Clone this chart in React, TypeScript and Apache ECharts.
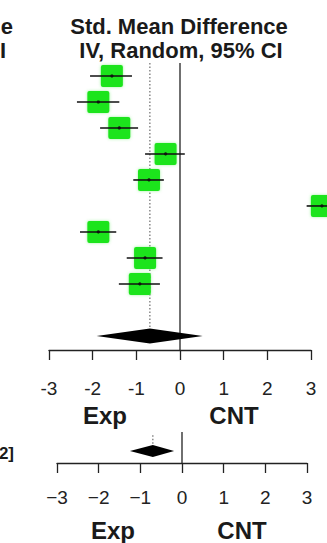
import React, { useEffect, useRef } from "react";
import * as echarts from "echarts";

// ---- data ----
const studyEst = [-1.56, -1.87, -1.39, -0.33, -0.71, 3.25, -1.87, -0.8, -0.92];
const studyLo = [-2.06, -2.36, -1.83, -0.8, -1.07, 2.9, -2.29, -1.22, -1.4];
const studyHi = [-1.1, -1.39, -0.96, 0.11, -0.37, 3.6, -1.46, -0.4, -0.46];
const studyRow = [1, 2, 3, 4, 5, 6, 7, 8, 9];

const pooledTop = { est: -0.69, lo: -1.91, hi: 0.52, row: 11 };
const pooledBottom = { est: -0.7, lo: -1.25, hi: -0.19, row: 0.73 };

const xTicks = [-3, -2, -1, 0, 1, 2, 3];
const titleLines = ["Std. Mean Difference", "IV, Random, 95% CI"];
const sideLabels = ["Exp", "CNT"];

const GREEN = "#1fe41f";
const FONT = "'Liberation Sans', Arial, sans-serif";

export default function App() {
  const ref = useRef<HTMLDivElement>(null);
  useEffect(() => {
    document.body.style.margin = "0";
    const chart = echarts.init(ref.current!, null, { renderer: "svg" });

    const studyData = studyEst.map((e, i) => [e, studyLo[i], studyHi[i], studyRow[i]]);

    const renderStudy = (params: any, api: any) => {
      const est = api.value(0);
      const lo = api.value(1);
      const hi = api.value(2);
      const row = api.value(3);
      const c = api.coord([est, row]);
      const l = api.coord([lo, row]);
      const h = api.coord([hi, row]);
      const s = 22;
      return {
        type: "group",
        children: [
          {
            type: "rect",
            shape: { x: c[0] - s / 2, y: c[1] - s / 2, width: s, height: s, r: 2 },
            style: { fill: GREEN, shadowBlur: 3, shadowColor: "rgba(60,230,60,0.5)" },
          },
          {
            type: "line",
            shape: { x1: l[0], y1: l[1], x2: h[0], y2: h[1] },
            style: { stroke: "#111", lineWidth: 1.6 },
          },
          {
            type: "circle",
            shape: { cx: c[0], cy: c[1], r: 1.6 },
            style: { fill: "#111" },
          },
        ],
      };
    };

    const renderDiamond = (halfH: number) => (params: any, api: any) => {
      const est = api.value(0);
      const lo = api.value(1);
      const hi = api.value(2);
      const row = api.value(3);
      const c = api.coord([est, row]);
      const l = api.coord([lo, row]);
      const h = api.coord([hi, row]);
      return {
        type: "polygon",
        shape: {
          points: [
            [l[0], c[1]],
            [c[0], c[1] - halfH],
            [h[0], c[1]],
            [c[0], c[1] + halfH],
          ],
        },
        style: { fill: "#000" },
      };
    };

    const renderVLine = (dashed: boolean) => (params: any, api: any) => {
      const x = api.value(0);
      const a = api.coord([x, api.value(1)]);
      const b = api.coord([x, api.value(2)]);
      return {
        type: "line",
        shape: { x1: a[0], y1: a[1], x2: b[0], y2: b[1] },
        style: dashed
          ? { stroke: "#777", lineWidth: 1.3, lineDash: [1.5, 2] }
          : { stroke: "#222", lineWidth: 1.3 },
      };
    };

    const axisCommon = (margin: number, fontSize: number, minusSign: boolean) => ({
      type: "value" as const,
      min: xTicks[0],
      max: xTicks[xTicks.length - 1],
      interval: 1,
      splitLine: { show: false },
      axisLine: { show: true, onZero: false, lineStyle: { color: "#222", width: 1.3 } },
      axisTick: { show: true, inside: false, length: 10, lineStyle: { color: "#222", width: 1.3 } },
      axisLabel: {
        show: true,
        margin,
        fontSize,
        fontFamily: FONT,
        color: "#222",
        formatter: (v: number) =>
          minusSign && v < 0 ? "\u2212" + Math.abs(v) : String(v),
      },
    });

    chart.setOption({
      animation: false,
      grid: [
        { left: 49, width: 262, top: 63, height: 287 },
        { left: 57, width: 250, top: 432, height: 31 },
      ],
      xAxis: [
        { ...axisCommon(29, 19, false), gridIndex: 0 },
        { ...axisCommon(25, 19, true), gridIndex: 1 },
      ],
      yAxis: [
        { type: "value", gridIndex: 0, min: 0.5, max: 11.54, inverse: true, show: false },
        { type: "value", gridIndex: 1, min: 0, max: 1.19, inverse: true, show: false },
      ],
      series: [
        {
          type: "custom",
          xAxisIndex: 0,
          yAxisIndex: 0,
          renderItem: renderVLine(true),
          data: [[pooledTop.est, 0.5, pooledTop.row - 0.33]],
          z: 1,
        },
        {
          type: "custom",
          xAxisIndex: 0,
          yAxisIndex: 0,
          renderItem: renderVLine(false),
          data: [[0, 0.5, 11.54]],
          z: 1,
        },
        {
          type: "custom",
          xAxisIndex: 0,
          yAxisIndex: 0,
          renderItem: renderStudy,
          data: studyData,
          z: 3,
        },
        {
          type: "custom",
          xAxisIndex: 0,
          yAxisIndex: 0,
          renderItem: renderDiamond(7.5),
          data: [[pooledTop.est, pooledTop.lo, pooledTop.hi, pooledTop.row]],
          z: 4,
        },
        {
          type: "custom",
          xAxisIndex: 1,
          yAxisIndex: 1,
          renderItem: renderVLine(true),
          data: [[pooledBottom.est, 0.12, 0.48]],
          z: 1,
        },
        {
          type: "custom",
          xAxisIndex: 1,
          yAxisIndex: 1,
          renderItem: renderVLine(false),
          data: [[0, 0, 1.19]],
          z: 1,
        },
        {
          type: "custom",
          xAxisIndex: 1,
          yAxisIndex: 1,
          renderItem: renderDiamond(6),
          data: [[pooledBottom.est, pooledBottom.lo, pooledBottom.hi, pooledBottom.row]],
          z: 4,
        },
      ],
      graphic: [
        {
          type: "text",
          x: 179,
          y: 26,
          style: {
            text: titleLines[0],
            align: "center",
            verticalAlign: "middle",
            font: `bold 22px ${FONT}`,
            fill: "#1a1a1a",
          },
        },
        {
          type: "text",
          x: 181,
          y: 50,
          style: {
            text: titleLines[1],
            align: "center",
            verticalAlign: "middle",
            font: `bold 22px ${FONT}`,
            fill: "#1a1a1a",
          },
        },
        {
          type: "text",
          x: 13,
          y: 26,
          style: { text: "e", align: "right", verticalAlign: "middle", font: `bold 22px ${FONT}`, fill: "#1a1a1a" },
        },
        {
          type: "text",
          x: 6,
          y: 50,
          style: { text: "I", align: "right", verticalAlign: "middle", font: `bold 22px ${FONT}`, fill: "#1a1a1a" },
        },
        {
          type: "text",
          x: 14,
          y: 453,
          style: { text: "2]", align: "right", verticalAlign: "middle", font: `bold 17px ${FONT}`, fill: "#1a1a1a" },
        },
        {
          type: "text",
          x: 105,
          y: 415,
          style: { text: sideLabels[0], align: "center", verticalAlign: "middle", font: `bold 24px ${FONT}`, fill: "#1a1a1a" },
        },
        {
          type: "text",
          x: 234,
          y: 415,
          style: { text: sideLabels[1], align: "center", verticalAlign: "middle", font: `bold 24px ${FONT}`, fill: "#1a1a1a" },
        },
        {
          type: "text",
          x: 113,
          y: 530,
          style: { text: sideLabels[0], align: "center", verticalAlign: "middle", font: `bold 24px ${FONT}`, fill: "#1a1a1a" },
        },
        {
          type: "text",
          x: 242,
          y: 530,
          style: { text: sideLabels[1], align: "center", verticalAlign: "middle", font: `bold 24px ${FONT}`, fill: "#1a1a1a" },
        },
      ],
    });
    return () => chart.dispose();
  }, []);
  return <div ref={ref} style={{ width: 327, height: 543 }} />;
}
